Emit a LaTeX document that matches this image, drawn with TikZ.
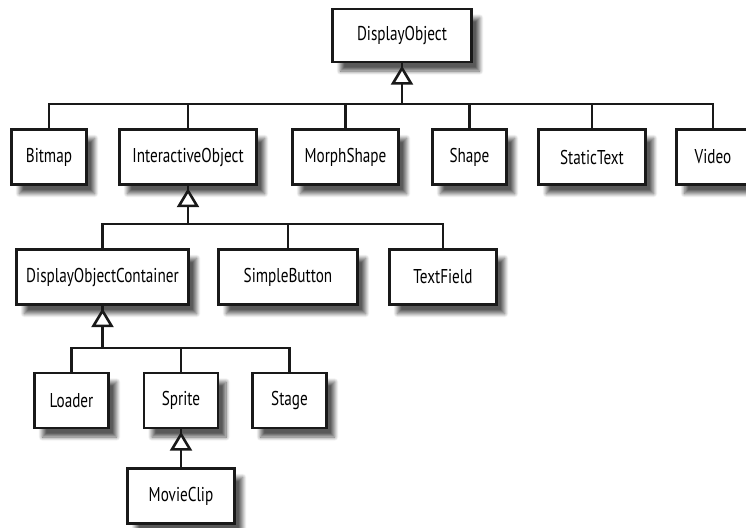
\documentclass[tikz,border=0pt]{standalone}
\usepackage{fontspec}
\setmainfont{PT Sans}[FakeStretch=0.76]
\usetikzlibrary{shadows.blur}
\tikzset{
  cls/.style={draw=black!90, line width=2.6pt, fill=white, inner sep=0pt,
    minimum height=55pt, font=\fontsize{20}{22}\selectfont,
    blur shadow={shadow xshift=8pt, shadow yshift=-9pt, shadow blur radius=4pt,
      shadow blur steps=8, shadow opacity=65}},
  link/.style={draw=black!90, line width=2.6pt, line join=miter},
  tri/.style={draw=black!90, line width=2.6pt, fill=white, line join=miter}
}
\newcommand\inhtri[1]{\draw[tri] ([yshift=-5pt]#1.south) -- ++(-9,15) -- ++(18,0) -- cycle;}
\begin{document}
\begin{tikzpicture}[x=1pt,y=-1pt]
\useasboundingbox (0,0) rectangle (746,527);
% nodes
\node[cls, minimum width=139pt, minimum height=53pt] (do) at (402,35.5) {DisplayObject};
\node[cls, minimum width=75pt] (bm) at (49,157) {Bitmap};
\node[cls, minimum width=137pt] (io) at (188,157) {InteractiveObject};
\node[cls, minimum width=106pt] (ms) at (345.5,157) {MorphShape};
\node[cls, minimum width=74pt] (sh) at (469.5,157) {Shape};
\node[cls, minimum width=107pt] (st) at (592,157) {StaticText};
\node[cls, minimum width=73pt] (vi) at (713,157) {Video};
\node[cls, minimum width=172pt] (doc) at (102.5,277) {DisplayObjectContainer};
\node[cls, minimum width=139pt] (sb) at (288,277) {SimpleButton};
\node[cls, minimum width=107pt] (tf) at (443,277) {TextField};
\node[cls, minimum width=74pt] (ld) at (71.5,400.5) {Loader};
\node[cls, minimum width=74pt] (sp) at (181,400.5) {Sprite};
\node[cls, minimum width=74pt] (sg) at (289.5,400.5) {Stage};
\node[cls, minimum width=107pt] (mc) at (181,496) {MovieClip};
% bus coordinates
\coordinate (b1) at (402,104);
\coordinate (b2) at (188,224);
\coordinate (b3) at (102.5,348);
% connectors
\foreach \c in {bm,io,ms,sh,st,vi} \draw[link] (\c.north) |- (b1);
\draw[link] (b1) -- (do.south);
\inhtri{do}
\foreach \c in {doc,sb,tf} \draw[link] (\c.north) |- (b2);
\draw[link] (b2) -- (io.south);
\inhtri{io}
\foreach \c in {ld,sp,sg} \draw[link] (\c.north) |- (b3);
\draw[link] (b3) -- (doc.south);
\inhtri{doc}
\draw[link] (mc.north) -- (sp.south);
\inhtri{sp}
\end{tikzpicture}
\end{document}
